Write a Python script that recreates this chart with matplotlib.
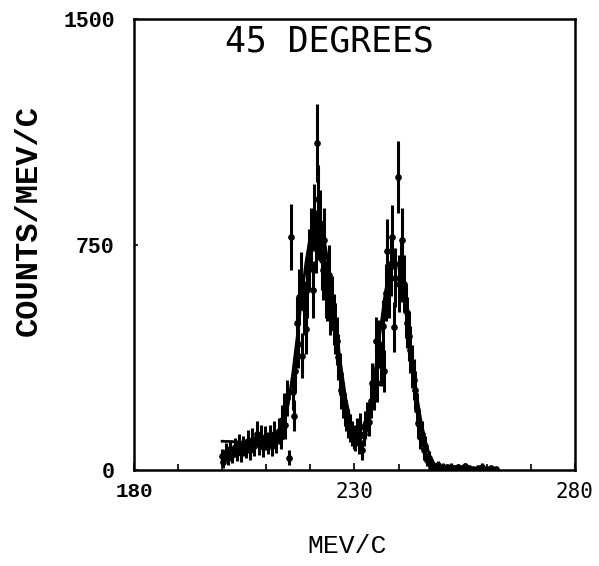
import matplotlib
matplotlib.use("Agg")
import matplotlib.pyplot as plt
from matplotlib.ticker import MultipleLocator

# measured points (MeV/c, counts/MeV/c, error)
mom = [200.0, 200.3, 200.8, 201.3, 201.8, 202.3, 202.8, 203.3, 203.8, 204.3,
       204.8, 205.3, 205.8, 206.3, 206.8, 207.3, 207.8, 208.3, 208.8, 209.3,
       209.8, 210.3, 210.8, 211.3, 211.8, 212.3, 212.8, 213.3, 213.6, 214.0,
       214.3, 214.7, 215.2, 215.7, 216.0, 216.3, 216.6, 217.0, 217.3, 217.5,
       217.9, 218.2, 218.5, 219.0, 219.3, 219.7, 220.2, 220.5, 220.8, 221.2,
       221.5, 221.8, 222.0, 222.3, 222.6, 222.9, 223.2, 223.5, 223.8, 224.2,
       224.5, 224.9, 225.3, 225.6, 226.0, 226.3, 226.7, 227.0, 227.4, 227.8,
       228.2, 228.6, 229.0, 229.4, 229.8, 230.2, 230.6, 231.0, 231.3, 231.7,
       232.1, 232.5, 232.9, 233.3, 233.7, 234.0, 234.4, 234.8, 235.2, 235.6,
       236.0, 236.4, 236.8, 237.2, 237.5, 237.9, 238.2, 238.6, 238.9, 239.3,
       239.8, 240.2, 240.5, 240.9, 241.2, 241.6, 241.9, 242.3, 242.7, 243.0,
       243.4, 243.7, 244.1, 244.5, 244.9, 245.3, 245.7, 246.1, 246.5, 246.9,
       247.3, 247.7, 248.1, 248.5, 249.0, 249.5, 250.0, 250.5, 251.0, 251.5,
       252.0, 252.5, 253.0, 253.5, 254.0, 254.5, 255.0, 255.5, 256.0, 257.0,
       258.0, 259.0, 260.0, 261.0, 262.0]
counts = [45, 25, 60, 40, 70, 50, 75, 60, 85, 55,
          80, 70, 95, 65, 100, 80, 120, 85, 110, 75,
          105, 90, 110, 80, 120, 95, 130, 110, 165, 200,
          150, 240, 40, 775, 260, 180, 330, 490, 420, 575,
          630, 380, 540, 470, 600, 700, 765, 600, 840, 760,
          1087, 900, 810, 820, 700, 665, 765, 600, 590, 650,
          540, 555, 500, 470, 430, 375, 320, 265, 232, 200,
          180, 155, 140, 122, 110, 100, 130, 90, 143, 66,
          120, 150, 175, 160, 230, 290, 260, 430, 290, 420,
          350, 480, 330, 590, 730, 600, 680, 775, 475, 640,
          975, 620, 660, 765, 620, 530, 490, 445, 400, 345,
          300, 265, 200, 155, 110, 120, 66, 80, 33, 40,
          10, 20, 10, 5, 15, 5, 10, 5, 8, 3,
          10, 5, 5, 8, 3, 5, 12, 3, 5, 3,
          5, 10, 3, 5, 3]
errs = [25, 20, 30, 25, 30, 28, 32, 30, 35, 28,
        34, 32, 38, 32, 38, 34, 42, 36, 40, 34,
        40, 36, 40, 34, 42, 38, 44, 40, 50, 55,
        48, 60, 25, 110, 62, 52, 70, 85, 80, 92,
        96, 76, 90, 84, 94, 102, 108, 94, 112, 106,
        130, 116, 110, 112, 102, 100, 108, 94, 94, 98,
        90, 90, 86, 84, 80, 76, 70, 64, 60, 55,
        52, 48, 46, 42, 40, 38, 44, 36, 46, 32,
        42, 46, 50, 48, 58, 66, 62, 80, 66, 80,
        72, 84, 70, 94, 104, 94, 100, 108, 84, 98,
        120, 96, 100, 108, 96, 90, 86, 82, 78, 72,
        68, 64, 55, 48, 40, 42, 32, 34, 22, 24,
        12, 16, 12, 8, 14, 8, 12, 8, 10, 6,
        12, 8, 8, 10, 6, 8, 12, 6, 8, 6,
        8, 12, 6, 8, 6]

# fitted curve
fit_x = [200, 205, 210, 212, 213, 214, 215, 216, 217, 218, 219, 220, 221,
         222, 223, 224, 225, 226, 227, 228, 229, 230, 231, 232, 233, 234,
         235, 236, 237, 238, 239, 240, 241, 242, 243, 244, 245, 246, 247,
         248, 249, 250, 255, 262]
fit_y = [95, 92, 90, 92, 105, 150, 220, 320, 440, 570, 690, 780, 830,
         830, 780, 690, 570, 450, 340, 240, 170, 120, 100, 110, 160, 250,
         360, 480, 590, 670, 700, 680, 600, 490, 370, 260, 170, 100, 50,
         20, 8, 5, 4, 4]

fig = plt.figure(figsize=(5.99, 5.66), dpi=100)
ax = fig.add_axes([0.2237, 0.170, 0.736, 0.796])

ax.errorbar(mom, counts, yerr=errs, fmt='o', color='black', ms=3.8,
            elinewidth=2.2, capsize=0)
ax.plot(fit_x, fit_y, color='black', lw=2.0)

ax.set_xlim(180, 280)
ax.set_ylim(0, 1500)
ax.set_xticks([180, 230, 280])
ax.set_yticks([0, 750, 1500])
ax.xaxis.set_minor_locator(MultipleLocator(10))
ax.tick_params(axis='x', which='major', direction='in', length=5, width=1.2, pad=9)
ax.tick_params(axis='x', which='minor', direction='in', length=4, width=1.2)
ax.tick_params(axis='y', direction='in', length=3, width=1.2, pad=14)
for lab in ax.get_xticklabels():
    lab.set_fontfamily('DejaVu Sans Mono')
    lab.set_fontsize(15)
xl = ax.get_xticklabels()
xl[0].set_fontfamily('Liberation Mono')
xl[0].set_fontweight('bold')
for lab in ax.get_yticklabels():
    lab.set_fontfamily('Liberation Mono')
    lab.set_fontweight('bold')
    lab.set_fontsize(15.5)
for sp in ax.spines.values():
    sp.set_linewidth(1.8)

ax.set_xlabel('MEV/C', fontfamily='Liberation Mono', fontsize=19)
ax.xaxis.set_label_coords(0.483, -0.142)
ax.set_ylabel('COUNTS/MEV/C', fontfamily='Liberation Mono', fontweight='bold',
              fontsize=23)
ax.yaxis.set_label_coords(-0.205, 0.554)
ax.text(0.444, 0.988, '45 DEGREES', transform=ax.transAxes, ha='center', va='top',
        fontfamily='DejaVu Sans Mono', fontsize=25)

fig.savefig('out.png', dpi=100)
